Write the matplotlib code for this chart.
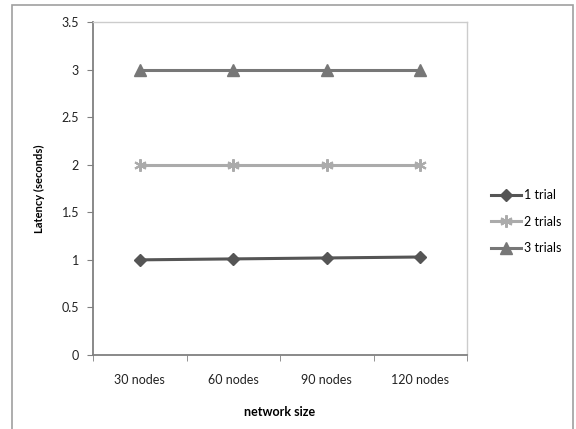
import matplotlib
matplotlib.use("Agg")
import matplotlib.pyplot as plt
from matplotlib.patches import Rectangle

categories = ["30 nodes", "60 nodes", "90 nodes", "120 nodes"]
trial1 = [1.0, 1.01, 1.02, 1.03]
trial2 = [2.0, 2.0, 2.0, 2.0]
trial3 = [3.0, 3.0, 3.0, 3.0]
series_names = ["1 trial", "2 trials", "3 trials"]
yticks = [0, 0.5, 1, 1.5, 2, 2.5, 3, 3.5]
ytick_labels = ["0", "0.5", "1", "1.5", "2", "2.5", "3", "3.5"]

plt.rcParams['font.family'] = ['Lato', 'DejaVu Sans']

fig = plt.figure(figsize=(5.76, 4.29), dpi=100)
fig.patches.append(Rectangle((12/576, -0.05), (573-12)/576, (429-5)/429 + 0.05,
                             transform=fig.transFigure, fill=False,
                             edgecolor='#a0a0a0', linewidth=1.2))
ax = fig.add_axes([93/576, (429-355)/429, (467-93)/576, (355-22)/429])

x = list(range(len(categories)))
ax.plot(x, trial1, color='#555555', lw=2.2, marker='D', ms=6, label=series_names[0])
ax.plot(x, trial2, color='#ababab', lw=2.2, marker=(6, 2, 0), ms=9, mew=1.5, label=series_names[1])
ax.plot(x, trial3, color='#777777', lw=2.2, marker='^', ms=8, label=series_names[2])

ax.set_xlim(-0.5, len(categories) - 0.5)
ax.set_ylim(0, 3.5)
ax.set_yticks(yticks)
ax.set_yticklabels(ytick_labels)
ax.set_xticks(x)
ax.set_xticklabels(categories)
ax.set_xticks([i + 0.5 for i in range(-1, len(categories))], minor=True)
ax.tick_params(axis='x', which='major', length=0, pad=14, labelsize=9, colors='#222222')
ax.tick_params(axis='x', which='minor', length=4, direction='out', color='#808080')
ax.tick_params(axis='y', length=4, direction='out', color='#808080', labelsize=9, pad=6)
ax.tick_params(axis='y', colors='#808080', labelcolor='#222222')

for s in ['left', 'bottom']:
    ax.spines[s].set_color('#808080')
    ax.spines[s].set_linewidth(1.3)
for s in ['top', 'right']:
    ax.spines[s].set_color('#cccccc')
    ax.spines[s].set_linewidth(1.0)

ax.set_ylabel("Latency (seconds)", fontsize=8, fontweight='bold', labelpad=12)
ax.set_xlabel("network size", fontsize=9, fontweight='bold', labelpad=14)

leg = ax.legend(loc='center left', bbox_to_anchor=(1.035, 0.40), frameon=False,
                fontsize=9, handlelength=2.4, handletextpad=0.2, labelspacing=1.15)

fig.savefig("out.png", dpi=100)
